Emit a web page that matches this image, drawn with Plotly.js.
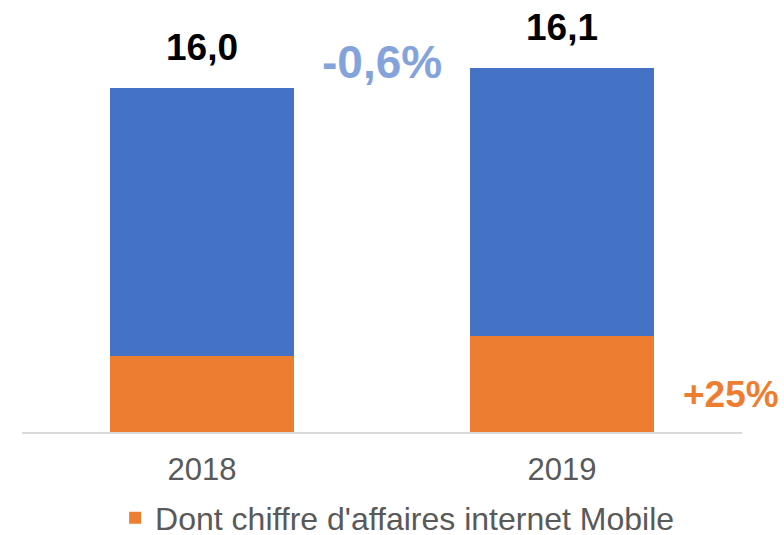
<!DOCTYPE html>
<html>
<head>
<meta charset="utf-8">
<script src="https://cdn.plot.ly/plotly-3.0.1.min.js"></script>
<style>html,body{margin:0;padding:0;background:#fff;}#chart{width:784px;height:535px;}</style>
</head>
<body>
<div id="chart"></div>
<script>
const categories = ["2018", "2019"];
const mobileValues = [3.55, 4.45];
const otherValues = [12.45, 12.5];
const totalLabels = ["16,0", "16,1"];
const totalChange = "-0,6%";
const mobileChange = "+25%";
const legendName = "Dont chiffre d'affaires internet Mobile";

const FONT = "Liberation Sans, Arial, sans-serif";

const traces = [
  {
    type: "bar", x: categories, y: mobileValues, name: legendName,
    marker: {color: "#ED7D31"}, hoverinfo: "skip"
  },
  {
    type: "bar", x: categories, y: otherValues, name: "Total",
    marker: {color: "#4472C4"}, showlegend: false, hoverinfo: "skip"
  }
];

const plotTop = 2, plotBottom = 432;
const py = p => (plotBottom - p) / (plotBottom - plotTop);

const annotations = categories.map((c, i) => ({
  x: i, y: mobileValues[i] + otherValues[i], xref: "x", yref: "y",
  text: "<b>" + totalLabels[i] + "</b>", showarrow: false,
  yanchor: "bottom", yshift: 18,
  font: {family: FONT, size: 37, color: "#000000"}
}));
annotations.push({
  x: 0.5, y: py(62), xref: "x", yref: "paper", yanchor: "middle",
  text: "<b>" + totalChange + "</b>", showarrow: false,
  font: {family: FONT, size: 46, color: "#85A3DB"}
});
annotations.push({
  x: 0.985, y: py(394), xref: "paper", yref: "paper", yanchor: "middle", xanchor: "center",
  text: "<b>" + mobileChange + "</b>", showarrow: false,
  font: {family: FONT, size: 37, color: "#ED7D31"}
});

const layout = {
  width: 784, height: 535,
  margin: {l: 22, r: 42, t: plotTop, b: 535 - plotBottom},
  paper_bgcolor: "#ffffff", plot_bgcolor: "#ffffff",
  barmode: "stack", bargap: 0.49,
  font: {family: FONT, color: "#595959"},
  xaxis: {
    type: "category", range: [-0.5, 1.5], showline: true, linecolor: "#D9D9D9", linewidth: 1.5,
    ticks: "", showgrid: false, zeroline: false, ticklabelstandoff: 9,
    tickfont: {family: FONT, size: 31, color: "#595959"}
  },
  yaxis: {range: [0, 20], visible: false, showgrid: false, zeroline: false},
  showlegend: true,
  legend: {
    orientation: "h", x: 0.521, xanchor: "center", xref: "paper",
    y: (535 - 518) / 535, yanchor: "middle", yref: "container",
    font: {family: FONT, size: 32, color: "#595959"}, traceorder: "normal",
    itemwidth: 30
  },
  annotations: annotations
};

Plotly.newPlot("chart", traces, layout, {displayModeBar: false, staticPlot: true});
</script>
</body>
</html>
